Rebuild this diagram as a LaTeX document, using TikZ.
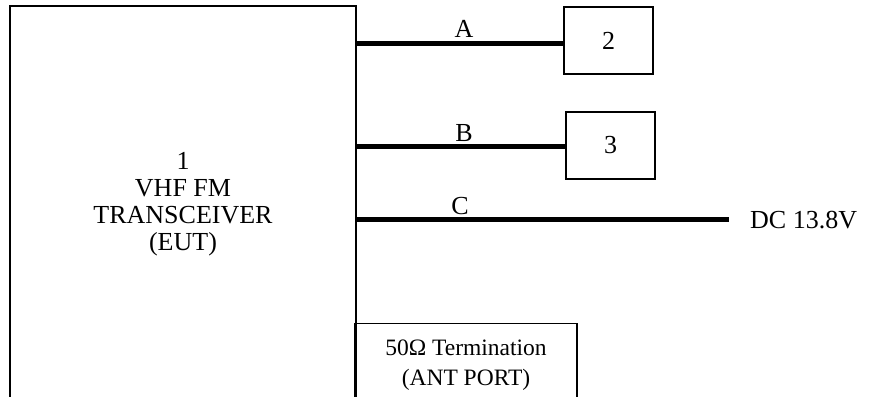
\documentclass[tikz,border=0pt]{standalone}
\usepackage{fontspec}
\setmainfont{Liberation Serif}
\begin{document}
\begin{tikzpicture}[x=1pt,y=-1pt,
  txt/.style={font=\fontsize{26}{26.8}\selectfont, inner sep=0pt, align=center},
  smalltxt/.style={font=\fontsize{23.5}{30}\selectfont, inner sep=0pt, align=center},
  box/.style={draw, line width=1.8pt, inner sep=0pt},
  wire/.style={line width=5pt}
]
\useasboundingbox (0,0) rectangle (874,396);
% main transceiver box (open at bottom)
\node[txt, minimum width=346pt, minimum height=396pt] (eut) at (183,204)
  {1\\VHF FM\\TRANSCEIVER\\(EUT)};
\draw[line width=1.8pt] ([yshift=-10pt]eut.south west) |- (eut.north)
  -| ([yshift=-10pt]eut.south east);
% accessory boxes
\node[box, txt, minimum width=89pt, minimum height=67pt] (n2) at (608.5,40.5) {2};
\node[box, txt, minimum width=89pt, minimum height=67pt] (n3) at (610.5,145.5) {3};
% termination box (open at bottom)
\node[box, smalltxt, minimum width=222pt, minimum height=84pt] (term) at (466,365.5)
  {50Ω Termination\\(ANT PORT)};
% DC label
\node[txt, anchor=west] (dc) at (750,220) {DC 13.8V};
% connection points
\coordinate (a0) at (356,44);
\coordinate (b0) at (356,146);
\coordinate (c0) at (356,219);
\coordinate (c1) at (729,219);
\draw[wire] (a0) -- (a0 -| n2.west);
\draw[wire] (b0) -- (b0 -| n3.west);
\draw[wire] (c0) -- (c1);
% wire labels
\node[txt] (la) at (464,29) {A};
\node[txt] (lb) at (464,133) {B};
\node[txt] (lc) at (460,206) {C};
\end{tikzpicture}
\end{document}
